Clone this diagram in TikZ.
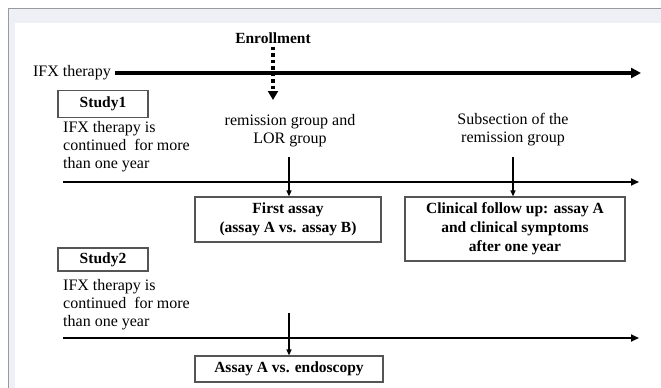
\documentclass[tikz,border=0pt]{standalone}
\usepackage{fontspec}
\setmainfont{Liberation Serif}
\usetikzlibrary{arrows.meta}
\definecolor{panelgray}{HTML}{EFF0F6}
\definecolor{edgegray}{HTML}{9A9A9E}
\definecolor{boxgray}{HTML}{555555}
\tikzset{
    stagebox/.style={draw=boxgray,line width=1.2pt,fill=white,font=\fontsize{15.5}{19}\selectfont\bfseries,align=center,inner sep=2pt},
    plaintext/.style={font=\fontsize{16}{18}\selectfont,align=center,inner sep=0pt},
    timeline/.style={line width=1.8pt,-{Triangle[length=8pt,width=7pt]}},
    stepdown/.style={line width=1.2pt,-{Triangle[length=6pt,width=5pt]}}
}
\begin{document}
\begin{tikzpicture}[x=1pt,y=-1pt]
            \useasboundingbox (0,0) rectangle (661,388);
            \fill[panelgray] (8,8) rectangle (661,388);
            \fill[white] (15,23) rectangle (661,388);
            \draw[edgegray,line width=1pt] (8.5,388) -- (8.5,8.5) -- (661,8.5);

            % top: therapy line and enrollment
            \node[plaintext,anchor=east] (ifx) at (111,73) {IFX therapy};
            \coordinate (ifxend) at (641,73);
            \draw[line width=3.6pt,-{Triangle[length=10pt,width=10pt]}] (ifx.east) ++(4,0) -- (ifxend);
            \node[plaintext,font=\fontsize{15.5}{18}\selectfont\bfseries] (enroll) at (273,38) {Enrollment};
            \coordinate (enrollend) at (273,100);
            \draw[line width=3.5pt,dash pattern=on 3.5pt off 3pt,-{Triangle[length=9pt,width=10pt]}] (enroll.south) ++(0,3) -- (enrollend);

            % study 1
            \begin{scope}
                \node[stagebox,minimum width=90pt,minimum height=27pt] (study1) at (103,104) {Study1};
                \node[plaintext,align=left,anchor=north west] (cont1) at (63,121) {IFX therapy is\\continued\ \ for more\\than one year};
                \node[plaintext] (remgroup) at (290,131) {remission group and\\LOR group};
                \node[plaintext] (subsec) at (513,130) {Subsection of the\\remission group};
                \coordinate (line1a) at (63,182);
                \coordinate (line1b) at (639,182);
                \draw[timeline] (line1a) -- (line1b);
                \node[stagebox,minimum width=186pt,minimum height=45pt] (first) at (288,219.5) {First assay\\(assay A vs. assay B)};
                \node[stagebox,minimum width=220pt,minimum height=64pt] (follow) at (515,229) {Clinical follow up: assay A\\and clinical symptoms\\after one year};
                \coordinate (remtop) at (289,157);
                \coordinate (subtop) at (513,157);
                \draw[stepdown] (remtop) -- (remtop |- first.north);
                \draw[stepdown] (subtop) -- (subtop |- follow.north);
            \end{scope}

            % study 2
            \begin{scope}
                \node[stagebox,minimum width=90pt,minimum height=23pt] (study2) at (103,259.5) {Study2};
                \node[plaintext,align=left,anchor=north west] (cont2) at (63,279) {IFX therapy is\\continued\ \ for more\\than one year};
                \coordinate (line2a) at (63,338);
                \coordinate (line2b) at (639,338);
                \draw[timeline] (line2a) -- (line2b);
                \node[stagebox,minimum width=188pt,minimum height=26pt] (endo) at (289,369) {Assay A vs. endoscopy};
                \coordinate (endotop) at (289,313);
                \draw[stepdown] (endotop) -- (endo.north);
            \end{scope}
\end{tikzpicture}
\end{document}
